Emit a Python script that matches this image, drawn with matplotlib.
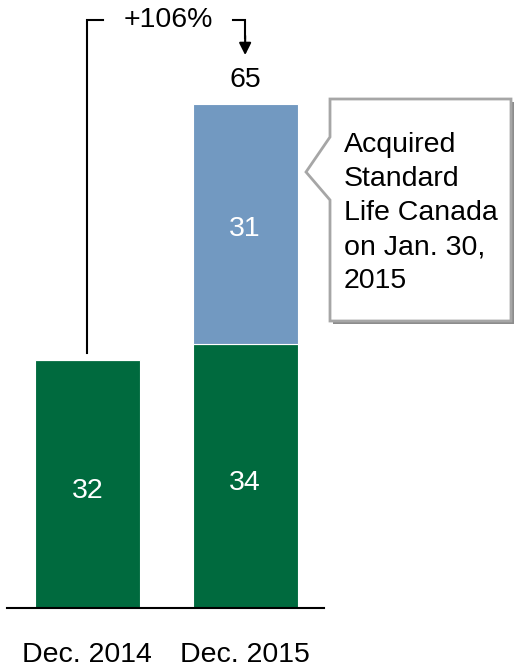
import matplotlib.pyplot as plt
from matplotlib.patches import Polygon

plt.rcParams['font.family'] = ['Liberation Sans', 'DejaVu Sans']

categories = ['Dec. 2014', 'Dec. 2015']
base_values = [32, 34]
acquired_values = [0, 31]
growth_label = '+106%'
callout_text = 'Acquired\nStandard\nLife Canada\non Jan. 30,\n2015'

green = '#006a3e'
blue = '#7299c1'
fs = 20.5

W, H = 514, 669
fig = plt.figure(figsize=(W / 100, H / 100), dpi=100)


def fx(px):
    return px / W


def fy(py):
    return 1 - py / H


ax = fig.add_axes([fx(7), fy(608), fx(324) - fx(7), fy(0) - fy(608)])
x = list(range(len(categories)))
width = 0.665
ax.bar(x, base_values, width=width, color=green, edgecolor='white', linewidth=0.8)
ax.bar(x, acquired_values, width=width, bottom=base_values, color=blue,
       edgecolor='white', linewidth=0.8)

for i in x:
    ax.text(i, base_values[i] / 2 - 0.5, str(base_values[i]), ha='center',
            va='center_baseline', color='white', fontsize=fs)
    if acquired_values[i]:
        ax.text(i, base_values[i] + acquired_values[i] / 2 - 0.2, str(acquired_values[i]),
                ha='center', va='center_baseline', color='white', fontsize=fs)

total = base_values[1] + acquired_values[1]
ax.text(1, total + 3.1, str(total), ha='center', va='center', fontsize=fs)

ax.set_xlim(-0.51, 1.50)
ax.set_ylim(0, 78.4)
for s in ['top', 'right', 'left']:
    ax.spines[s].set_visible(False)
ax.spines['bottom'].set_linewidth(1.5)
ax.set_yticks([])
ax.set_xticks(x)
ax.set_xticklabels(categories, fontsize=fs)
ax.tick_params(axis='x', length=0, pad=24.5)

# growth bracket
top_y = 75.8
ax.plot([0, 0, 0.1], [base_values[0] + 0.9, top_y, top_y], color='black', lw=1.5,
        clip_on=False, solid_joinstyle='miter')
ax.text(0.51, top_y, growth_label, ha='center', va='center', fontsize=fs)
ax.plot([0.92, 1.0, 1.0], [top_y, top_y, 73.5], color='black', lw=1.5,
        clip_on=False, solid_joinstyle='miter')
ax.annotate('', xy=(1, 71.3), xytext=(1, 73.8),
            arrowprops=dict(arrowstyle='-|>', color='black', lw=1.5,
                            mutation_scale=18, shrinkA=0, shrinkB=0))

# callout box
pts = [(330, 99), (511, 99), (511, 321), (330, 321), (330, 200),
       (306, 172), (330, 137)]
shadow = Polygon([(fx(px + 3), fy(py + 3)) for px, py in pts], closed=True,
                 transform=fig.transFigure, facecolor='#8c8c8c', edgecolor='none')
box = Polygon([(fx(px), fy(py)) for px, py in pts], closed=True,
              transform=fig.transFigure, facecolor='white', edgecolor='#a6a6a6',
              lw=2, joinstyle='miter')
fig.patches.extend([shadow, box])
fig.text(fx(344), fy(213), callout_text, ha='left', va='center', fontsize=fs,
         linespacing=1.4)

fig.savefig('out.png', dpi=100)
